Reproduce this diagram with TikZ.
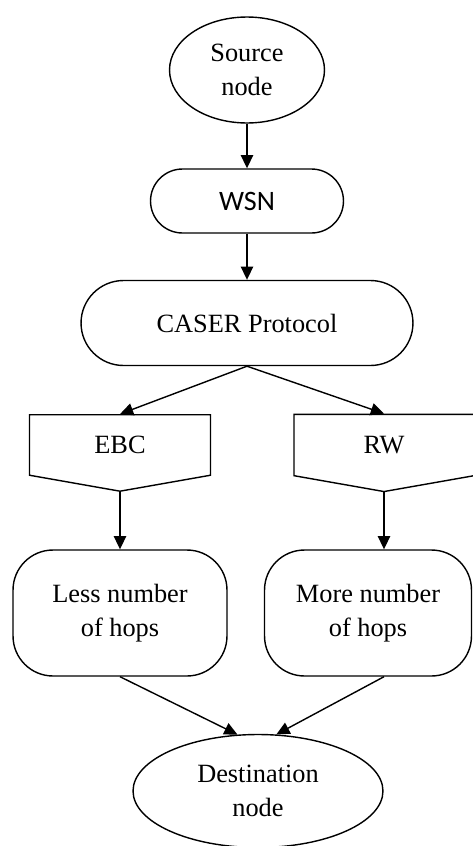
\documentclass[tikz,border=0pt]{standalone}
\usepackage{fontspec}
\setmainfont{Liberation Serif}
\newfontfamily\calibri{Carlito}
\usetikzlibrary{shapes.geometric,shapes.misc,shapes.symbols,arrows.meta}
\tikzstyle{terminal}=[ellipse,draw,line width=0.8pt,align=center,inner sep=0pt]
\tikzstyle{stadium}=[rounded rectangle,draw,line width=0.8pt,inner sep=0pt]
\tikzstyle{offpage}=[signal,signal to=south,signal pointer angle=160,draw,line width=0.8pt,inner sep=0pt]
\tikzstyle{result}=[rectangle,rounded corners=0.8cm,draw,line width=0.8pt,align=center,inner sep=0pt]
\tikzstyle{edge}=[draw,line width=0.8pt,-{Triangle[length=7.5pt,width=7pt]}]

\begin{document}
\begin{tikzpicture}[x=0.02cm,y=-0.02cm,font=\fontsize{15}{19}\selectfont]
    \useasboundingbox (0,0) rectangle (473,846);
    % Main column
    \node[terminal,minimum width=3.1cm,minimum height=2.12cm] (src) at (247,70) {Source\\node};
    \node[stadium,minimum width=3.86cm,minimum height=1.28cm,font=\calibri\fontsize{16}{19}\selectfont] (wsn) at (247,201) {WSN};
    \node[stadium,minimum width=6.64cm,minimum height=1.7cm] (caser) at (247,323) {CASER Protocol};

    % The two branches
    \node[offpage,minimum width=3.62cm,minimum height=1.3cm] (ebc) at (120,445) {EBC};
    \node[offpage,minimum width=3.6cm,minimum height=1.3cm] (rw) at (384,445) {RW};
    \node[result,minimum width=4.28cm,minimum height=2.52cm] (less) at (120,613) {Less number\\of hops};
    \node[result,minimum width=4.14cm,minimum height=2.52cm] (more) at (368,613) {More number\\of hops};

    \node[terminal,minimum width=5cm,minimum height=2.26cm] (dst) at (258,791) {Destination\\node};

    % Connect them
    \foreach \source/\dest in {src.south/wsn.north, wsn.south/caser.north,
                               caser.south/ebc.north, caser.south/rw.north,
                               ebc.south/less.north}
        \path[edge] (\source) -- (\dest);
    \path[edge] (rw.south) -- (rw.south |- more.north);
    \path[edge] (less.south) -- (dst.110);
    \path[edge] (more.south -| rw.south) -- (dst.72);
\end{tikzpicture}
\end{document}
